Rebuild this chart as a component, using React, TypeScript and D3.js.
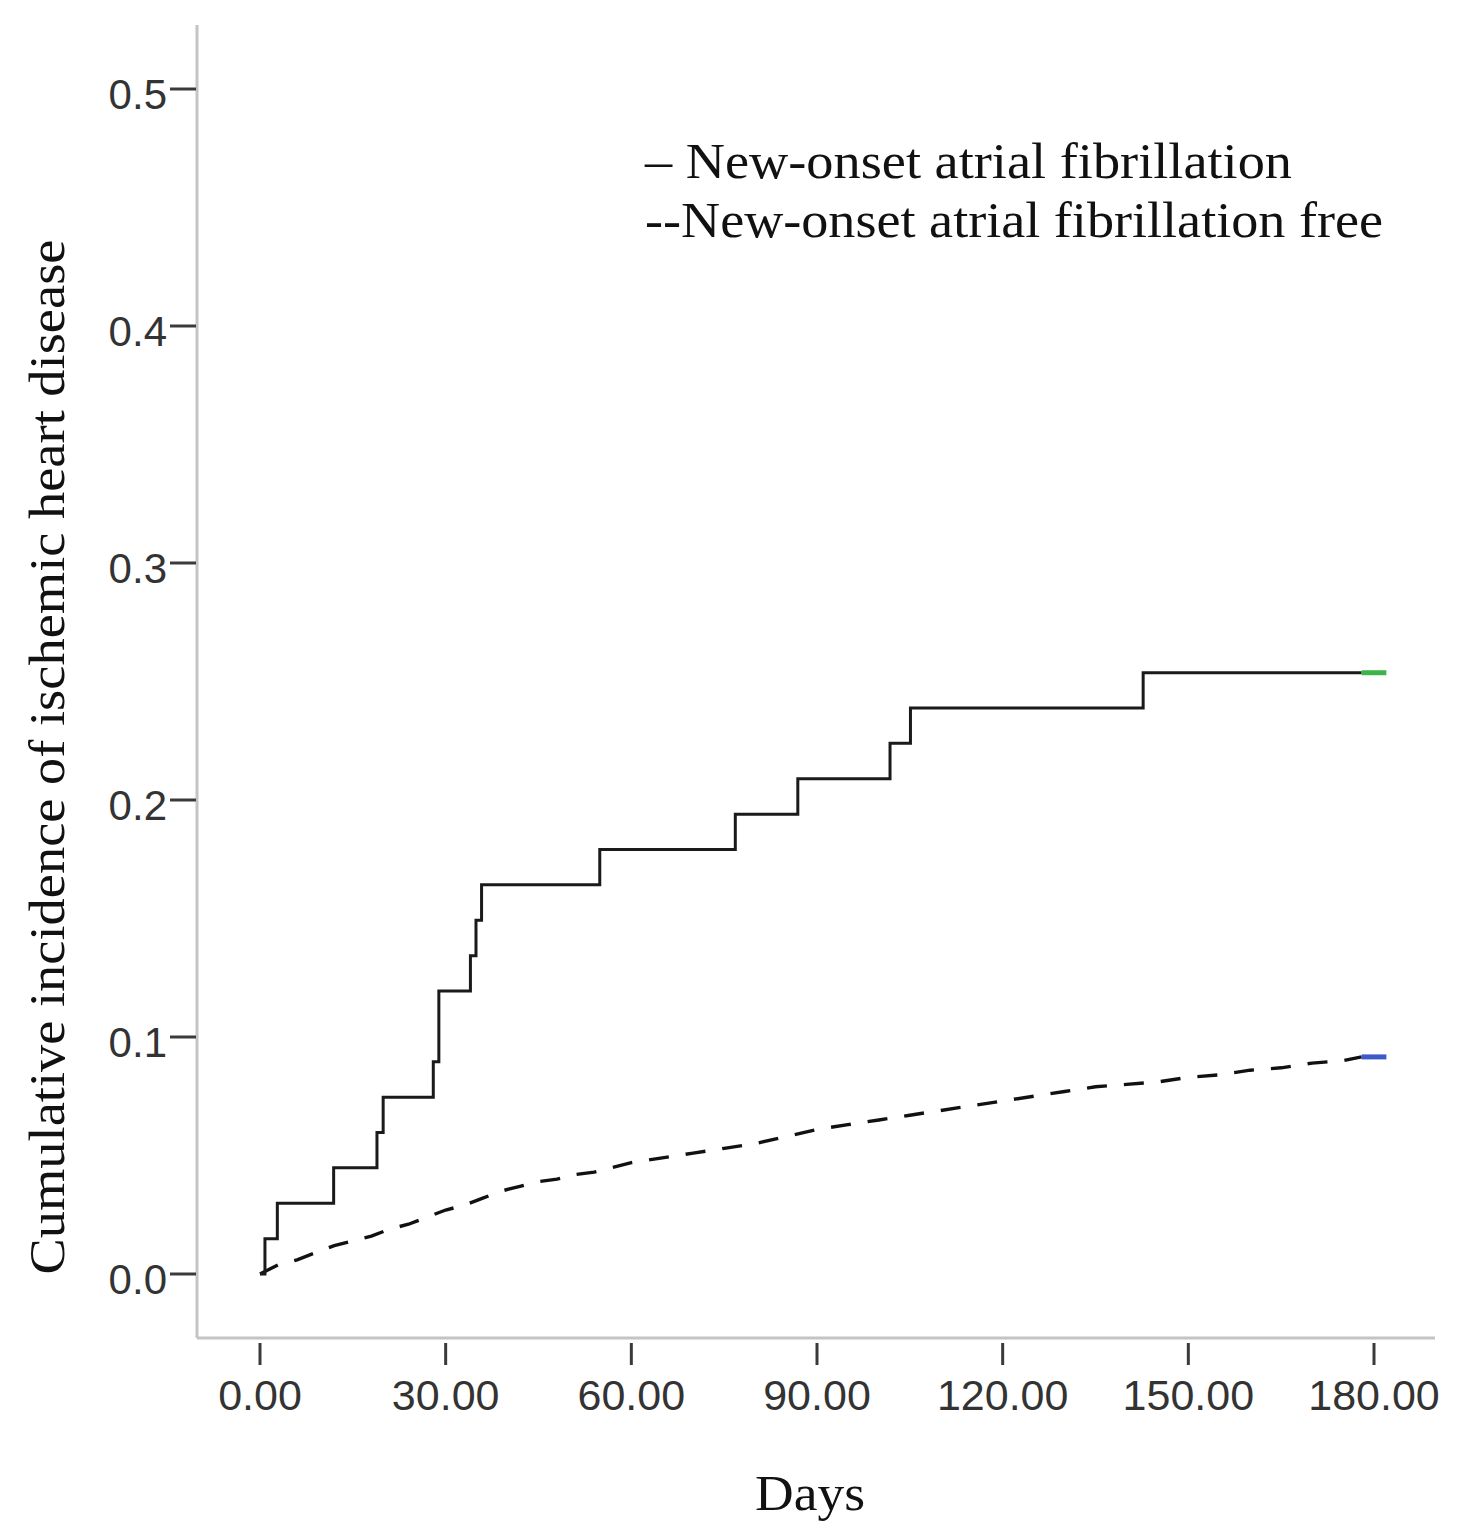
import React from "react";
import * as d3 from "d3";

// ---- data ----
const afDays = [0, 0.8, 2.8, 11.9, 18.9, 19.9, 28.0, 28.9, 34.0, 34.9, 35.8, 54.9, 76.8, 86.9, 101.8, 105.1, 142.7, 178];
const afValues = [0, 0.0149, 0.0299, 0.0448, 0.0597, 0.0746, 0.0896, 0.1194, 0.1343, 0.1493, 0.1642, 0.1791, 0.194, 0.209, 0.2239, 0.2388, 0.2537, 0.2537];

const freeDays = [0, 3, 6, 9, 12, 15, 18, 21, 24, 27, 30, 33, 36, 39, 42, 45, 48, 51, 54, 57, 60, 65, 70, 75, 80, 85, 90, 95, 100, 105, 110, 115, 120, 125, 130, 135, 140, 145, 150, 155, 160, 165, 170, 175, 178];
const freeValues = [0, 0.004, 0.006, 0.009, 0.012, 0.014, 0.016, 0.019, 0.021, 0.024, 0.027, 0.029, 0.032, 0.035, 0.037, 0.039, 0.04, 0.042, 0.043, 0.045, 0.047, 0.049, 0.051, 0.053, 0.055, 0.058, 0.061, 0.063, 0.065, 0.067, 0.069, 0.071, 0.073, 0.075, 0.077, 0.079, 0.08, 0.081, 0.083, 0.084, 0.086, 0.087, 0.089, 0.09, 0.0916];

const xTicks = [0, 30, 60, 90, 120, 150, 180];
const yTicks = [0, 0.1, 0.2, 0.3, 0.4, 0.5];
const censorEnd = 182;

const legendLabels = ["\u2013 New-onset atrial fibrillation", "--New-onset atrial fibrillation free"];
const xTitle = "Days";
const yTitle = "Cumulative incidence of ischemic heart disease";

const W = 1473;
const H = 1535;

export default function App() {
  const x = d3.scaleLinear().domain([0, 180]).range([260, 1374]);
  const y = d3.scaleLinear().domain([0, 0.5]).range([1274, 89]);

  const stepLine = d3
    .line<[number, number]>()
    .x((d) => x(d[0]))
    .y((d) => y(d[1]))
    .curve(d3.curveStepAfter);
  const smoothLine = d3
    .line<[number, number]>()
    .x((d) => x(d[0]))
    .y((d) => y(d[1]))
    .curve(d3.curveLinear);

  const afPts = afDays.map((d, i) => [d, afValues[i]] as [number, number]);
  const freePts = freeDays.map((d, i) => [d, freeValues[i]] as [number, number]);

  const axisX0 = 197;
  const axisY0 = 1338;
  const tickFont = "'Liberation Sans', Arial, sans-serif";
  const serif = "'Liberation Serif', 'Times New Roman', serif";

  const afLast = afPts[afPts.length - 1];
  const freeLast = freePts[freePts.length - 1];
  const legendLengths = [647, 738];

  return (
    <svg
      width={W}
      height={H}
      viewBox={`0 0 ${W} ${H}`}
      style={{ position: "absolute", left: 0, top: 0, display: "block", background: "#fff" }}
    >
      <rect x={0} y={0} width={W} height={H} fill="#fff" />
      {/* axes */}
      <line x1={axisX0} y1={25} x2={axisX0} y2={axisY0} stroke="#c4c4c4" strokeWidth={3} />
      <line x1={axisX0} y1={axisY0} x2={1435} y2={axisY0} stroke="#c4c4c4" strokeWidth={3} />

      {/* y ticks */}
      {yTicks.map((t) => (
        <g key={"y" + t}>
          <line x1={170} x2={196} y1={y(t)} y2={y(t)} stroke="#3a3a3a" strokeWidth={3} />
          <text x={167} y={y(t) + 20} textAnchor="end" fontFamily={tickFont} fontSize={42} fill="#333">
            {t.toFixed(1)}
          </text>
        </g>
      ))}

      {/* x ticks */}
      {xTicks.map((t) => (
        <g key={"x" + t}>
          <line x1={x(t)} x2={x(t)} y1={1343} y2={1365} stroke="#3a3a3a" strokeWidth={3} />
          <text x={x(t)} y={1410} textAnchor="middle" fontFamily={tickFont} fontSize={43} fill="#333">
            {t.toFixed(2)}
          </text>
        </g>
      ))}

      {/* curves */}
      <path d={smoothLine(freePts) || ""} fill="none" stroke="#111" strokeWidth={3.4} strokeDasharray="20,17" />
      <path d={stepLine(afPts) || ""} fill="none" stroke="#1a1a1a" strokeWidth={3} />

      {/* censor end markers */}
      <line x1={x(afLast[0])} x2={x(censorEnd)} y1={y(afLast[1])} y2={y(afLast[1])} stroke="#3cb44b" strokeWidth={5} />
      <line x1={x(freeLast[0])} x2={x(censorEnd)} y1={y(freeLast[1])} y2={y(freeLast[1])} stroke="#3d5ac8" strokeWidth={5} />

      {/* legend */}
      {legendLabels.map((l, i) => (
        <text
          key={l}
          x={645}
          y={178 + i * 59}
          fontFamily={serif}
          fontSize={50}
          fill="#111"
          textLength={legendLengths[i]}
          lengthAdjust="spacingAndGlyphs"
        >
          {l}
        </text>
      ))}

      {/* axis titles */}
      <text
        x={810}
        y={1510}
        textAnchor="middle"
        fontFamily={serif}
        fontSize={50}
        fill="#111"
        textLength={110}
        lengthAdjust="spacingAndGlyphs"
      >
        {xTitle}
      </text>
      <text
        transform={`translate(64, 757) rotate(-90)`}
        textAnchor="middle"
        fontFamily={serif}
        fontSize={50}
        fill="#111"
        textLength={1035}
        lengthAdjust="spacingAndGlyphs"
      >
        {yTitle}
      </text>
    </svg>
  );
}
